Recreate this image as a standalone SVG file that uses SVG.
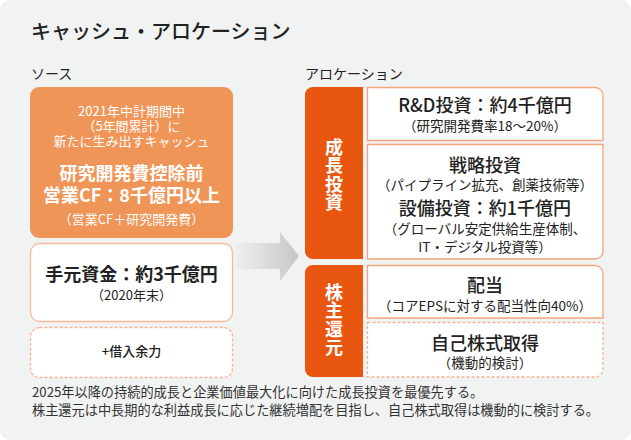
<svg xmlns="http://www.w3.org/2000/svg" width="631" height="440" viewBox="0 0 631 440">
<defs>
<style>
text{font-family:"Noto Sans CJK JP","Noto Sans",sans-serif;fill:#222;}
.c{text-anchor:middle;}
.w{fill:#fff;}
.s13{font-size:13px;}
.s135{font-size:13.5px;}
.s18{font-size:18px;font-weight:700;}
.h{font-size:18px;font-weight:500;}
.box{fill:#fff;stroke:#f4a47e;stroke-width:1.3;}
.dash{fill:#fff;stroke:#f6b392;stroke-width:1.3;stroke-dasharray:3 2;}
.bar{fill:#e8560f;}
.vt{font-size:18px;font-weight:700;fill:#fff;text-anchor:middle;writing-mode:vertical-rl;letter-spacing:0.5px;}
</style>
<linearGradient id="ag" x1="0" x2="1" y1="0" y2="0">
<stop offset="0" stop-color="#eeefef"/>
<stop offset="1" stop-color="#c6c7c8"/>
</linearGradient>
</defs>
<rect x="0" y="0" width="631" height="440" rx="10" fill="#f1f2f2"/>
<text x="31" y="39" style="font-size:20px;font-weight:500">キャッシュ・アロケーション</text>
<text x="31" y="79" style="font-size:14px">ソース</text>
<text x="305" y="79" style="font-size:14px">アロケーション</text>

<g id="connectors">
<polygon points="236,243 280,243 280,232 299,256 280,281 280,269 236,269" fill="url(#ag)"/>
</g>

<g id="source-cash">
<rect x="30" y="87" width="203" height="151" rx="9" fill="#f09558"/>
<text class="c w s13"><tspan x="131.5" y="116">2021年中計期間中</tspan><tspan x="131.5" y="131">（5年間累計）に</tspan><tspan x="131.5" y="146">新たに生み出すキャッシュ</tspan></text>
<text class="c w s18"><tspan x="131.5" y="180">研究開発費控除前</tspan><tspan x="131.5" y="202">営業CF：8千億円以上</tspan></text>
<text class="c w s13" x="131.5" y="224">（営業CF＋研究開発費）</text>
</g>

<g id="source-funds">
<rect class="box" x="30.5" y="243.5" width="202" height="78" rx="9" style="stroke:#f6b89a"/>
<text class="c s18" x="131.5" y="281">手元資金：約3千億円</text>
<text class="c s13" x="131.5" y="300">（2020年末）</text>
</g>

<g id="source-borrow">
<rect class="dash" x="30.5" y="327.5" width="202" height="50" rx="9"/>
<text class="c s13" x="131.5" y="356" style="font-weight:500">+借入余力</text>
</g>

<g id="growth">
<path class="bar" d="M313,87 H363 V259 H313 A8,8 0 0 1 305,251 V95 A8,8 0 0 1 313,87 Z"/>
<text class="vt" x="334" y="175">成長投資</text>
</g>

<g id="rnd">
<path class="box" d="M367.5,87.5 H595 A8,8 0 0 1 603,95.5 V140.5 H367.5 Z"/>
<text class="c h" x="485" y="112">R&amp;D投資：約4千億円</text>
<text class="c s135" x="485" y="131">（研究開発費率18～20%）</text>
</g>

<g id="strategic">
<path class="box" d="M367.5,144.5 H603 V251 A8,8 0 0 1 595,259 H367.5 Z"/>
<text class="c h" x="485" y="172">戦略投資</text>
<text class="c s135" x="485" y="190">（パイプライン拡充、創薬技術等）</text>
<text class="c h" x="485" y="215">設備投資：約1千億円</text>
<text class="c s135"><tspan x="485" y="234">（グローバル安定供給生産体制、</tspan><tspan x="485" y="252">IT・デジタル投資等）</tspan></text>
</g>

<g id="shareholder">
<path class="bar" d="M313,265 H363 V377 H313 A8,8 0 0 1 305,369 V273 A8,8 0 0 1 313,265 Z"/>
<text class="vt" x="334" y="320">株主還元</text>
</g>

<g id="dividend">
<path class="box" d="M367.5,265.5 H595 A8,8 0 0 1 603,273.5 V318 H367.5 Z"/>
<text class="c h" x="485" y="292">配当</text>
<text class="c s135" x="485" y="311">（コアEPSに対する配当性向40%）</text>
</g>

<g id="buyback">
<path class="dash" d="M367.5,322.5 H603 V369 A8,8 0 0 1 595,377 H367.5 Z"/>
<text class="c h" x="485" y="350">自己株式取得</text>
<text class="c s135" x="485" y="368">（機動的検討）</text>
</g>

<text style="font-size:13.2px;fill:#333"><tspan x="32" y="397">2025年以降の持続的成長と企業価値最大化に向けた成長投資を最優先する。</tspan><tspan x="32" y="415">株主還元は中長期的な利益成長に応じた継続増配を目指し、自己株式取得は機動的に検討する。</tspan></text>
</svg>
